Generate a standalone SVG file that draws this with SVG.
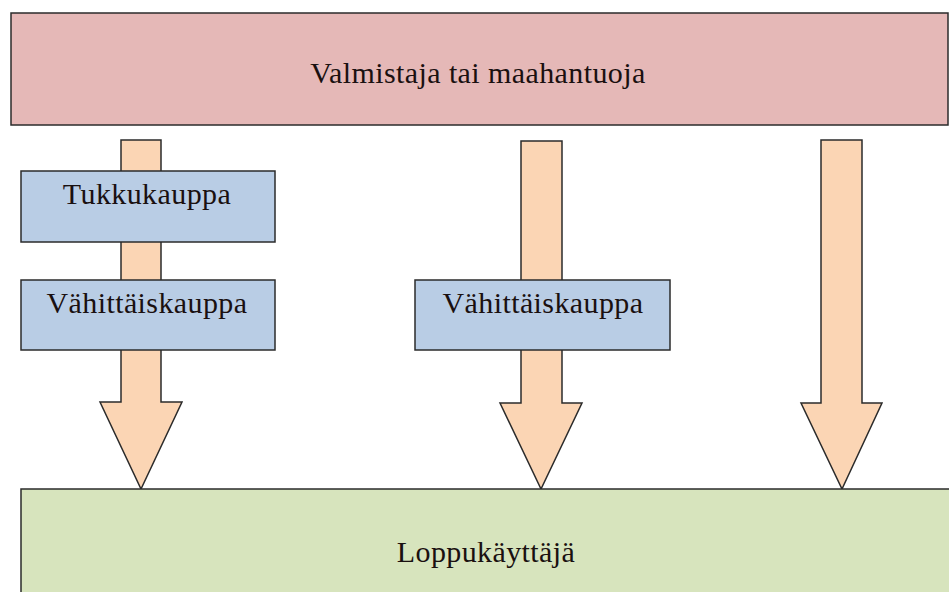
<svg xmlns="http://www.w3.org/2000/svg" width="949" height="592" viewBox="0 0 949 592">
<style>
.box{stroke:#2b2b2b;stroke-width:1.5}
.arrow{fill:#FBD5B4;stroke:#2b2b2b;stroke-width:1.5;stroke-linejoin:miter}
.t{font-family:"Liberation Serif","Times New Roman",serif;font-size:30px;letter-spacing:0.4px;fill:#1a1010;text-anchor:middle}
</style>
<rect width="949" height="592" fill="#ffffff"/>
<g id="connectors">
<path class="arrow" d="M121,140 H161 V402 H182 L141,489 L100,402 H121 Z"/>
<path class="arrow" d="M521,141 H562 V403 H582 L541,489 L500,403 H521 Z"/>
<path class="arrow" d="M821,140 H862 V403 H882 L842,489 L801,403 H821 Z"/>
</g>
<g id="valmistaja">
<rect class="box" x="11" y="13" width="937" height="112" fill="#E5B8B7"/>
<text class="t" x="478" y="83">Valmistaja tai maahantuoja</text>
</g>
<g id="tukkukauppa">
<rect class="box" x="21" y="171" width="254" height="71" fill="#B9CDE5"/>
<text class="t" x="147" y="204">Tukkukauppa</text>
</g>
<g id="vahittais1">
<rect class="box" x="21" y="280" width="254" height="70" fill="#B9CDE5"/>
<text class="t" x="147" y="313">Vähittäiskauppa</text>
</g>
<g id="vahittais2">
<rect class="box" x="415" y="280" width="255" height="70" fill="#B9CDE5"/>
<text class="t" x="543" y="313">Vähittäiskauppa</text>
</g>
<g id="loppukayttaja">
<rect class="box" x="21" y="489" width="940" height="120" fill="#D7E4BD"/>
<text class="t" x="486" y="562">Loppukäyttäjä</text>
</g>
</svg>
